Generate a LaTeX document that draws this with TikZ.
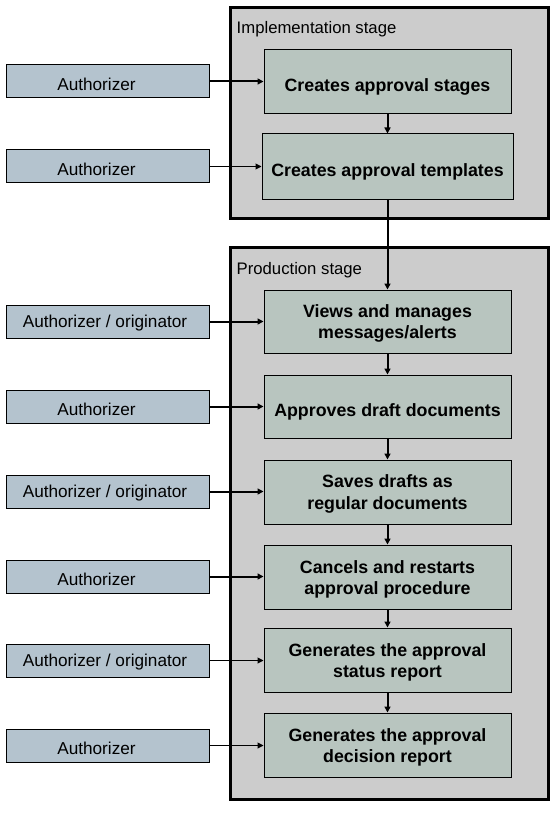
\documentclass[tikz,border=0pt]{standalone}
\usepackage{fontspec}
\setmainfont{Liberation Sans}
\usetikzlibrary{arrows.meta}
\definecolor{stagefill}{HTML}{CCCCCC}
\definecolor{actfill}{HTML}{B8C5BF}
\definecolor{rolefill}{HTML}{B4C3CE}
\tikzset{
  stagebox/.style={draw=black, line width=3pt, fill=stagefill},
  rolebox/.style={draw=black, line width=1pt, fill=rolefill, minimum width=203pt, minimum height=33pt, inner sep=0pt},
  actbox/.style={draw=black, line width=1pt, fill=actfill, minimum width=247pt, minimum height=64pt, inner sep=0pt},
  acttext/.style={inner sep=0pt, align=center, font=\fontsize{17.8}{21.2}\selectfont\bfseries},
  roletext/.style={inner sep=0pt, font=\fontsize{17.2}{20}\selectfont},
  titletext/.style={inner sep=0pt, anchor=base west, font=\fontsize{16.7}{20}\selectfont},
  thick arrow/.style={line width=2pt, -{Triangle[length=6pt,width=6pt]}},
  thin arrow/.style={line width=1pt, -{Triangle[length=6pt,width=6pt]}},
}
\begin{document}
\begin{tikzpicture}[x=1pt,y=-1pt]
\useasboundingbox (0,0) rectangle (554,813);
\fill[white] (0,0) rectangle (554,813);
% stage boxes
\draw[stagebox] (230,8) rectangle (548,218);
\draw[stagebox] (230,247) rectangle (548,799);
\node[titletext] (t1) at (236.5,34) {Implementation stage};
\node[titletext] (t2) at (236.5,274) {Production stage};
% activity boxes
\node[actbox] (b1) at (387.5,82) {};
\node[actbox, minimum width=251pt, minimum height=65pt] (b2) at (387.5,166.5) {};
\node[actbox, minimum height=63pt] (b3) at (387.5,321.5) {};
\node[actbox, minimum height=63pt] (b4) at (387.5,406.5) {};
\node[actbox] (b5) at (387.5,492) {};
\node[actbox] (b6) at (387.5,577) {};
\node[actbox] (b7) at (387.5,660) {};
\node[actbox] (b8) at (387.5,745) {};
\node[acttext, anchor=base] (x1) at ([yshift=-10pt]b1.center) {Creates approval stages};
\node[acttext, anchor=base] (x2) at ([yshift=-10pt]b2.center) {Creates approval templates};
\node[acttext] (x3) at ([yshift=-2pt]b3.center) {Views and manages\\messages/alerts};
\node[acttext, anchor=base] (x4) at ([yshift=-10pt]b4.center) {Approves draft documents};
\node[acttext] (x5) at ([yshift=-2pt]b5.center) {Saves drafts as\\regular documents};
\node[acttext] (x6) at ([yshift=-2pt]b6.center) {Cancels and restarts\\approval procedure};
\node[acttext] (x7) at ([yshift=-2pt]b7.center) {Generates the approval\\status report};
\node[acttext] (x8) at ([yshift=-2pt]b8.center) {Generates the approval\\decision report};
% role boxes
\node[rolebox] (r1) at (108,81.5) {};
\node[rolebox] (r2) at (108,166.5) {};
\node[rolebox] (r3) at (108,321.5) {};
\node[rolebox] (r4) at (108,406.5) {};
\node[rolebox] (r5) at (108,491.5) {};
\node[rolebox] (r6) at (108,576.5) {};
\node[rolebox] (r7) at (108,660.5) {};
\node[rolebox] (r8) at (108,745.5) {};
\node[roletext] (l1) at (96.5,84.5) {Authorizer};
\node[roletext] (l2) at (96.5,169.5) {Authorizer};
\node[roletext] (l3) at (105,323.5) {Authorizer / originator};
\node[roletext] (l4) at (96.5,409.5) {Authorizer};
\node[roletext] (l5) at (105,493.5) {Authorizer / originator};
\node[roletext] (l6) at (96.5,579.5) {Authorizer};
\node[roletext] (l7) at (105,662.5) {Authorizer / originator};
\node[roletext] (l8) at (96.5,748.5) {Authorizer};
% role arrows
\draw[thick arrow] (r1.east) -- (r1.east -| b1.west);
\draw[thin arrow] (r2.east) -- (r2.east -| b2.west);
\draw[thick arrow] (r3.east) -- (r3.east -| b3.west);
\draw[thick arrow] (r4.east) -- (r4.east -| b4.west);
\draw[thick arrow] (r5.east) -- (r5.east -| b5.west);
\draw[thick arrow] (r6.east) -- (r6.east -| b6.west);
\draw[thin arrow] (r7.east) -- (r7.east -| b7.west);
\draw[thin arrow] (r8.east) -- (r8.east -| b8.west);
% flow arrows
\draw[thick arrow] (b1.south) -- (b2.north);
\draw[thick arrow] (b2.south) -- (b3.north);
\draw[thick arrow] (b3.south) -- (b4.north);
\draw[thick arrow] (b4.south) -- (b5.north);
\draw[thick arrow] (b5.south) -- (b6.north);
\draw[thick arrow] (b6.south) -- (b7.north);
\draw[thick arrow] (b7.south) -- (b8.north);
\end{tikzpicture}
\end{document}
